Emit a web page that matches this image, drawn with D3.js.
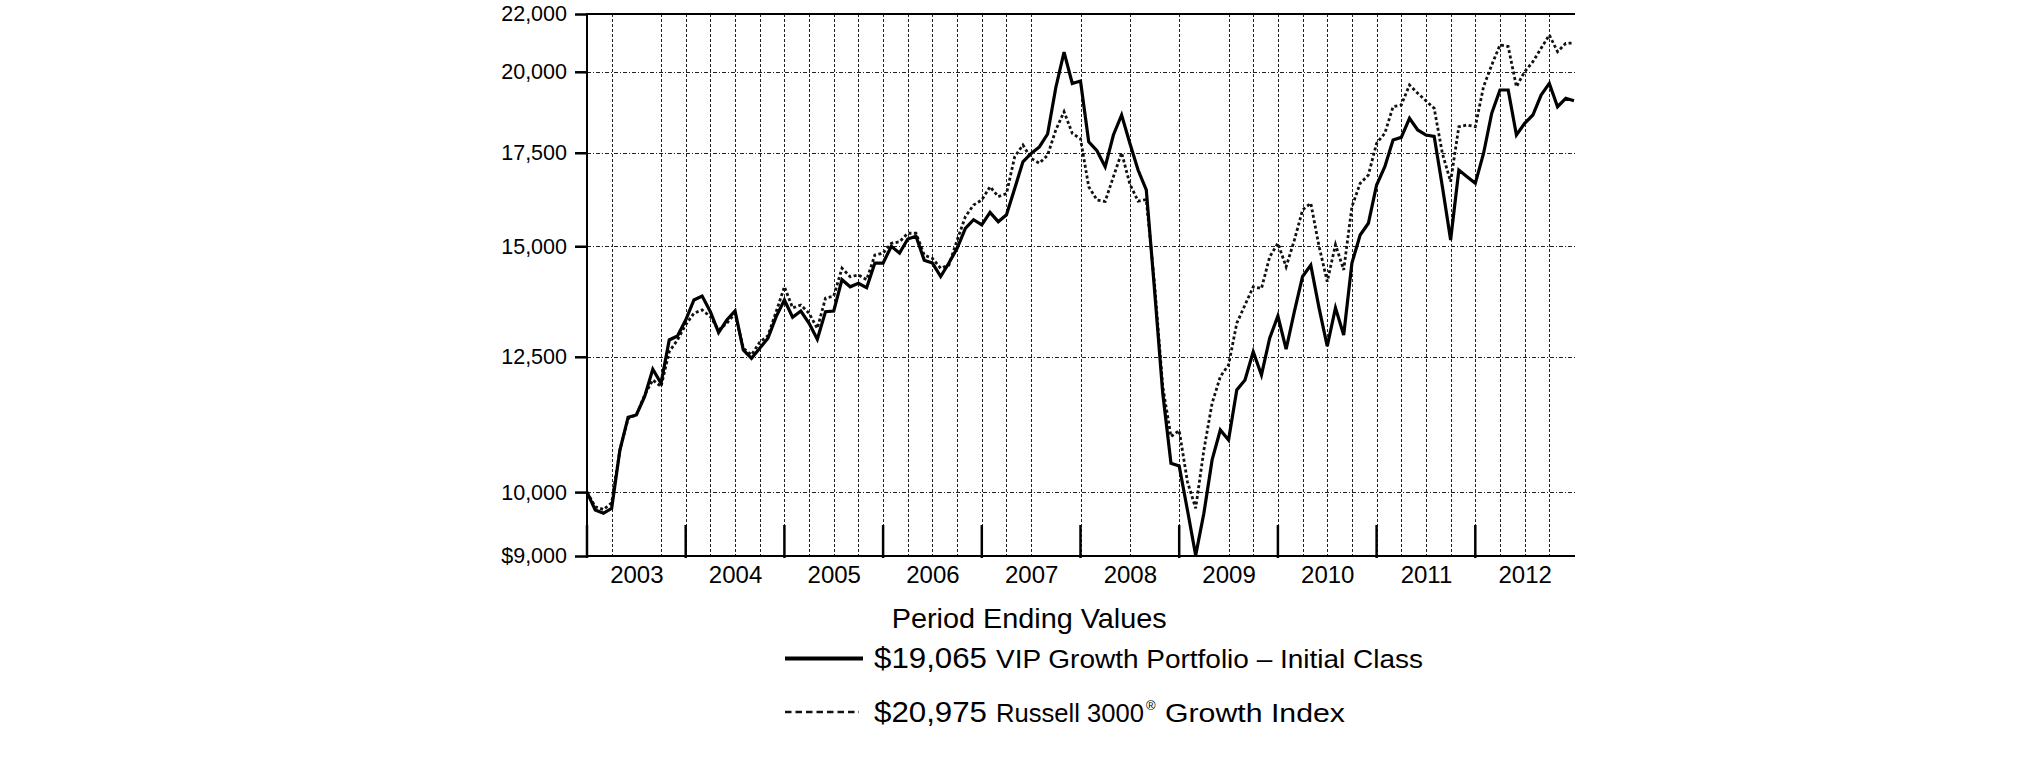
<!DOCTYPE html>
<html>
<head>
<meta charset="utf-8">
<script src="https://cdn.jsdelivr.net/npm/d3@7"></script>
<style>
  html, body { margin: 0; padding: 0; background: #ffffff; }
  svg { display: block; }
  text { font-family: "Liberation Sans", Arial, Helvetica, sans-serif; fill: #000; }
</style>
</head>
<body>
<svg id="chart" width="2025" height="761"></svg>
<script>
// ---- Data (monthly, Dec 2002 = month 0 ... Dec 2012 = month 120) ----
const fundValues = [
  10000, 9709, 9656, 9737, 10718, 11315, 11357, 11704, 12245, 11966, 12852, 12937,
  13281, 13728, 13818, 13466, 13009, 13281, 13481, 12641, 12469, 12677, 12888, 13356,
  13728, 13343, 13481, 13211, 12868, 13466, 13481, 14195, 14030, 14110, 14010, 14590,
  14590, 15000, 14830, 15180, 15250, 14660, 14590, 14270, 14590, 14950, 15450, 15670,
  15540, 15860, 15620, 15800, 16500, 17240, 17480, 17670, 18050, 19490, 20660, 19620,
  19700, 17820, 17560, 17100, 18020, 18625, 17776, 17010, 16458, 13957, 11770, 10487,
  10442, 9709, 9010, 9656, 10545, 11079, 10899, 11834, 12032, 12606, 12131, 12888,
  13370, 12657, 13466, 14270, 14540, 13550, 12720, 13550, 12958, 14590, 15281, 15580,
  16594, 17103, 17874, 17950, 18524, 18170, 18020, 17980, 16548, 15156, 17010, 16823,
  16640, 17480, 18678, 19408, 19408, 18020, 18372, 18625, 19248, 19620, 18881, 19144,
  19065
];
const indexValues = [
  10000, 9762, 9717, 9825, 10718, 11290, 11357, 11733, 12032, 11900, 12606, 12852,
  13180, 13430, 13504, 13356, 13065, 13211, 13430, 12677, 12541, 12803, 12945, 13466,
  14030, 13550, 13614, 13430, 13100, 13770, 13818, 14465, 14265, 14305, 14195, 14784,
  14830, 15072, 15110, 15325, 15325, 14784, 14700, 14465, 14540, 15150, 15748, 16056,
  16190, 16548, 16280, 16360, 17387, 17725, 17340, 17200, 17430, 18170, 18727, 18070,
  17910, 16548, 16190, 16150, 16823, 17500, 16620, 16160, 16200, 14100, 11900, 10959,
  11070, 10175, 9737, 10718, 11579, 12098, 12333, 13211, 13614, 14030, 13990, 14740,
  15072, 14500, 15150, 15924, 16103, 15000, 14150, 15040, 14425, 16010, 16640, 16870,
  17776, 18070, 18881, 18935, 19570, 19303, 19065, 18832, 17480, 16685, 18269, 18321,
  18269, 19514, 20225, 20904, 20850, 19514, 20004, 20335, 20790, 21252, 20674, 20962,
  20975
];
const yTickValues = [9000, 10000, 12500, 15000, 17500, 20000, 22000];
const yTickLabels = ["$9,000", "10,000", "12,500", "15,000", "17,500", "20,000", "22,000"];
const yGridValues = [10000, 12500, 15000, 17500, 20000];
const yearLabels = ["2003", "2004", "2005", "2006", "2007", "2008", "2009", "2010", "2011", "2012"];
const yearStartMonths = [0, 12, 24, 36, 48, 60, 72, 84, 96, 108];
const gridMonths = [3, 9, 12, 15, 18, 21, 24, 27, 30, 33, 36, 39, 42, 45, 48, 51, 54,
  60, 66, 72, 78, 81, 84, 87, 90, 93, 96, 99, 102, 105, 108, 111, 114, 117];
const legendTitle = "Period Ending Values";
const fundEnd = "$19,065";
const fundName = "VIP Growth Portfolio \u2013 Initial Class";
const indexEnd = "$20,975";
const indexNameA = "Russell 3000";
const indexNameB = "Growth Index";

// ---- Layout ----
const L = 587, R = 1575, T = 14, B = 556;
const svg = d3.select("#chart");
svg.append("rect").attr("width", 2025).attr("height", 761).attr("fill", "#fff");

const x = d3.scaleLinear().domain([0, 120]).range([L, 1574]);
const y = d3.scaleLog().domain([9000, 22000]).range([B, T]);

// grid
const grid = svg.append("g");
grid.selectAll("line.v").data(gridMonths).join("line")
  .attr("x1", d => Math.round(x(d)) + 0.5).attr("x2", d => Math.round(x(d)) + 0.5)
  .attr("y1", T).attr("y2", B)
  .attr("stroke", "#222").attr("stroke-width", 1).attr("stroke-dasharray", "3,2");
grid.selectAll("line.h").data(yGridValues).join("line")
  .attr("x1", L).attr("x2", R)
  .attr("y1", d => Math.round(y(d)) + 0.5).attr("y2", d => Math.round(y(d)) + 0.5)
  .attr("stroke", "#222").attr("stroke-width", 1).attr("stroke-dasharray", "4,2,1,2");

// frame: top, left, bottom
svg.append("line").attr("x1", L).attr("x2", R).attr("y1", T).attr("y2", T)
  .attr("stroke", "#000").attr("stroke-width", 2);
svg.append("line").attr("x1", L).attr("x2", L).attr("y1", T - 1).attr("y2", B + 1)
  .attr("stroke", "#000").attr("stroke-width", 2);
svg.append("line").attr("x1", L - 1).attr("x2", R).attr("y1", B).attr("y2", B)
  .attr("stroke", "#000").attr("stroke-width", 2);

// y axis
const yAxis = d3.axisLeft(y).tickValues(yTickValues)
  .tickFormat((d, i) => yTickLabels[i]).tickSize(12).tickPadding(8);
const gy = svg.append("g").attr("transform", `translate(${L},0)`).call(yAxis);
gy.select(".domain").remove();
gy.selectAll(".tick line").attr("stroke", "#000").attr("stroke-width", 2.5);
gy.selectAll(".tick text").attr("font-size", "21.5px")
  .attr("font-family", "'Liberation Sans', Arial, sans-serif").attr("fill", "#000");

// year ticks
svg.append("g").selectAll("line").data(yearStartMonths).join("line")
  .attr("x1", d => x(d)).attr("x2", d => x(d))
  .attr("y1", B - 31).attr("y2", B + 2)
  .attr("stroke", "#000").attr("stroke-width", 2.5);

// year labels via axis (centered in each year)
const xAxis = d3.axisBottom(x).tickValues(yearStartMonths.map(m => m + 6))
  .tickFormat((d, i) => yearLabels[i]).tickSize(0).tickPadding(10);
const gx = svg.append("g").attr("transform", `translate(0,${B})`).call(xAxis);
gx.select(".domain").remove();
gx.selectAll(".tick text").attr("font-size", "24px")
  .attr("font-family", "'Liberation Sans', Arial, sans-serif").attr("fill", "#000");

// series lines
const line = d3.line().x((d, i) => x(i)).y(d => y(d));
svg.append("path").datum(indexValues).attr("d", line)
  .attr("fill", "none").attr("stroke", "#111").attr("stroke-width", 2.8)
  .attr("stroke-dasharray", "3,2.5");
svg.append("path").datum(fundValues).attr("d", line)
  .attr("fill", "none").attr("stroke", "#000").attr("stroke-width", 3.2)
  .attr("stroke-linejoin", "miter");

// legend
const lg = svg.append("g");
lg.append("text").attr("x", 891.7).attr("y", 628).attr("font-size", "27.5px")
  .attr("textLength", 275).attr("lengthAdjust", "spacingAndGlyphs").text(legendTitle);

lg.append("line").attr("x1", 785).attr("x2", 863).attr("y1", 658.5).attr("y2", 658.5)
  .attr("stroke", "#000").attr("stroke-width", 4);
lg.append("text").attr("x", 874).attr("y", 668).attr("font-size", "29px")
  .attr("textLength", 113).attr("lengthAdjust", "spacingAndGlyphs").text(fundEnd);
lg.append("text").attr("x", 996).attr("y", 667.5).attr("font-size", "26px")
  .attr("textLength", 427).attr("lengthAdjust", "spacingAndGlyphs").text(fundName);

lg.append("line").attr("x1", 785).attr("x2", 859).attr("y1", 712).attr("y2", 712)
  .attr("stroke", "#111").attr("stroke-width", 2.5).attr("stroke-dasharray", "6.5,4");
lg.append("text").attr("x", 874).attr("y", 722).attr("font-size", "29px")
  .attr("textLength", 113).attr("lengthAdjust", "spacingAndGlyphs").text(indexEnd);
lg.append("text").attr("x", 996).attr("y", 721.5).attr("font-size", "26px")
  .attr("textLength", 148).attr("lengthAdjust", "spacingAndGlyphs").text(indexNameA);
lg.append("text").attr("x", 1146).attr("y", 710).attr("font-size", "13px").text("\u00AE");
lg.append("text").attr("x", 1165).attr("y", 721.5).attr("font-size", "26px")
  .attr("textLength", 180).attr("lengthAdjust", "spacingAndGlyphs").text(indexNameB);
</script>
</body>
</html>
